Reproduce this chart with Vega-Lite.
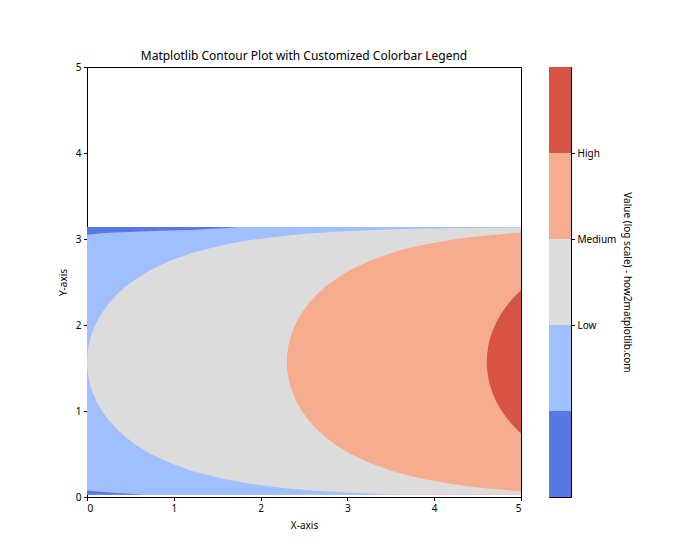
{
  "$schema": "https://vega.github.io/schema/vega-lite/v6.json",
  "padding": {"left": 57, "top": 49, "right": 5, "bottom": 0},
  "background": "white",
  "spacing": 26,
  "config": {
    "font": "Noto Sans",
    "view": {"stroke": "#000000", "strokeWidth": 1},
    "axis": {"grid": false, "domainColor": "#000000", "tickColor": "#000000", "tickSize": 3.5, "labelFontSize": 10, "labelColor": "#000000", "titleFontSize": 10, "titleFontWeight": "normal", "titleColor": "#000000", "labelPadding": 2.5, "titlePadding": 7},
    "title": {"fontSize": 12, "fontWeight": "normal", "color": "#000000", "offset": -1}
  },
  "datasets": {
    "bands": [
      {"band": "r", "y": 0.027, "x": 5.0}, {"band": "r", "y": 3.14, "x": 5.0},
      {"band": "s", "y": 0.027, "x": 5.0}, {"band": "s", "y": 0.739, "x": 5.0}, {"band": "s", "y": 0.8, "x": 4.937}, {"band": "s", "y": 0.9, "x": 4.849}, {"band": "s", "y": 1.0, "x": 4.778}, {"band": "s", "y": 1.1, "x": 4.72}, {"band": "s", "y": 1.2, "x": 4.676}, {"band": "s", "y": 1.3, "x": 4.642}, {"band": "s", "y": 1.4, "x": 4.62}, {"band": "s", "y": 1.5, "x": 4.608}, {"band": "s", "y": 1.571, "x": 4.605}, {"band": "s", "y": 1.642, "x": 4.608}, {"band": "s", "y": 1.742, "x": 4.62}, {"band": "s", "y": 1.842, "x": 4.642}, {"band": "s", "y": 1.942, "x": 4.676}, {"band": "s", "y": 2.042, "x": 4.72}, {"band": "s", "y": 2.142, "x": 4.778}, {"band": "s", "y": 2.242, "x": 4.849}, {"band": "s", "y": 2.342, "x": 4.937}, {"band": "s", "y": 2.403, "x": 5.0}, {"band": "s", "y": 3.14, "x": 5.0},
      {"band": "g", "y": 0.027, "x": 5.0}, {"band": "g", "y": 0.0675, "x": 5.0}, {"band": "g", "y": 0.08, "x": 4.83}, {"band": "g", "y": 0.1, "x": 4.607}, {"band": "g", "y": 0.12, "x": 4.426}, {"band": "g", "y": 0.15, "x": 4.204}, {"band": "g", "y": 0.2, "x": 3.919}, {"band": "g", "y": 0.25, "x": 3.7}, {"band": "g", "y": 0.3, "x": 3.522}, {"band": "g", "y": 0.4, "x": 3.246}, {"band": "g", "y": 0.5, "x": 3.038}, {"band": "g", "y": 0.6, "x": 2.874}, {"band": "g", "y": 0.7, "x": 2.742}, {"band": "g", "y": 0.8, "x": 2.635}, {"band": "g", "y": 0.9, "x": 2.547}, {"band": "g", "y": 1.0, "x": 2.475}, {"band": "g", "y": 1.1, "x": 2.418}, {"band": "g", "y": 1.2, "x": 2.373}, {"band": "g", "y": 1.3, "x": 2.34}, {"band": "g", "y": 1.4, "x": 2.317}, {"band": "g", "y": 1.5, "x": 2.305}, {"band": "g", "y": 1.571, "x": 2.303}, {"band": "g", "y": 1.642, "x": 2.305}, {"band": "g", "y": 1.742, "x": 2.317}, {"band": "g", "y": 1.842, "x": 2.34}, {"band": "g", "y": 1.942, "x": 2.373}, {"band": "g", "y": 2.042, "x": 2.418}, {"band": "g", "y": 2.142, "x": 2.475}, {"band": "g", "y": 2.242, "x": 2.547}, {"band": "g", "y": 2.342, "x": 2.635}, {"band": "g", "y": 2.442, "x": 2.742}, {"band": "g", "y": 2.542, "x": 2.874}, {"band": "g", "y": 2.642, "x": 3.038}, {"band": "g", "y": 2.742, "x": 3.246}, {"band": "g", "y": 2.842, "x": 3.522}, {"band": "g", "y": 2.892, "x": 3.7}, {"band": "g", "y": 2.942, "x": 3.919}, {"band": "g", "y": 2.992, "x": 4.204}, {"band": "g", "y": 3.022, "x": 4.426}, {"band": "g", "y": 3.042, "x": 4.607}, {"band": "g", "y": 3.062, "x": 4.83}, {"band": "g", "y": 3.074, "x": 5.0}, {"band": "g", "y": 3.14, "x": 5.0},
      {"band": "l", "y": 0.027, "x": 3.612}, {"band": "l", "y": 0.04, "x": 3.219}, {"band": "l", "y": 0.06, "x": 2.814}, {"band": "l", "y": 0.08, "x": 2.527}, {"band": "l", "y": 0.1, "x": 2.304}, {"band": "l", "y": 0.15, "x": 1.901}, {"band": "l", "y": 0.2, "x": 1.616}, {"band": "l", "y": 0.3, "x": 1.219}, {"band": "l", "y": 0.4, "x": 0.943}, {"band": "l", "y": 0.5, "x": 0.735}, {"band": "l", "y": 0.6, "x": 0.572}, {"band": "l", "y": 0.7, "x": 0.44}, {"band": "l", "y": 0.8, "x": 0.332}, {"band": "l", "y": 0.9, "x": 0.244}, {"band": "l", "y": 1.0, "x": 0.173}, {"band": "l", "y": 1.1, "x": 0.115}, {"band": "l", "y": 1.2, "x": 0.07}, {"band": "l", "y": 1.3, "x": 0.037}, {"band": "l", "y": 1.4, "x": 0.015}, {"band": "l", "y": 1.5, "x": 0.003}, {"band": "l", "y": 1.571, "x": 0}, {"band": "l", "y": 1.642, "x": 0.003}, {"band": "l", "y": 1.742, "x": 0.015}, {"band": "l", "y": 1.842, "x": 0.037}, {"band": "l", "y": 1.942, "x": 0.07}, {"band": "l", "y": 2.042, "x": 0.115}, {"band": "l", "y": 2.142, "x": 0.173}, {"band": "l", "y": 2.242, "x": 0.244}, {"band": "l", "y": 2.342, "x": 0.332}, {"band": "l", "y": 2.442, "x": 0.44}, {"band": "l", "y": 2.542, "x": 0.572}, {"band": "l", "y": 2.642, "x": 0.735}, {"band": "l", "y": 2.742, "x": 0.943}, {"band": "l", "y": 2.842, "x": 1.219}, {"band": "l", "y": 2.942, "x": 1.616}, {"band": "l", "y": 2.992, "x": 1.901}, {"band": "l", "y": 3.042, "x": 2.304}, {"band": "l", "y": 3.062, "x": 2.527}, {"band": "l", "y": 3.082, "x": 2.814}, {"band": "l", "y": 3.102, "x": 3.219}, {"band": "l", "y": 3.11, "x": 3.455}, {"band": "l", "y": 3.118, "x": 3.74}, {"band": "l", "y": 3.126, "x": 4.15}, {"band": "l", "y": 3.132, "x": 4.66}, {"band": "l", "y": 3.135, "x": 5.0}, {"band": "l", "y": 3.14, "x": 5.0},
      {"band": "d", "y": 0.027, "x": 0.67}, {"band": "d", "y": 0.035, "x": 0.55}, {"band": "d", "y": 0.045, "x": 0.38}, {"band": "d", "y": 0.058, "x": 0.2}, {"band": "d", "y": 0.075, "x": 0},
      {"band": "d", "y": 3.05, "x": 0}, {"band": "d", "y": 3.073, "x": 0.25}, {"band": "d", "y": 3.085, "x": 0.55}, {"band": "d", "y": 3.095, "x": 0.85}, {"band": "d", "y": 3.105, "x": 1.2}, {"band": "d", "y": 3.125, "x": 1.55}, {"band": "d", "y": 3.14, "x": 1.75}
    ],
    "levels": [
      {"band": "d", "lo": 0.01, "hi": 0.1},
      {"band": "l", "lo": 0.1, "hi": 1},
      {"band": "g", "lo": 1, "hi": 10},
      {"band": "s", "lo": 10, "hi": 100},
      {"band": "r", "lo": 100, "hi": 1000}
    ]
  },
  "hconcat": [
    {
      "width": 434,
      "height": 430,
      "title": {"text": "Matplotlib Contour Plot with Customized Colorbar Legend"},
      "data": {"name": "bands"},
      "encoding": {
        "x": {"field": "x", "type": "quantitative", "stack": null, "scale": {"domain": [0, 5], "nice": false}, "axis": {"title": "X-axis", "values": [0, 1, 2, 3, 4, 5]}},
        "y": {"field": "y", "type": "quantitative", "scale": {"domain": [0, 5], "nice": false}, "axis": {"title": "Y-axis", "values": [0, 1, 2, 3, 4, 5]}},
        "color": {"field": "band", "type": "nominal", "scale": {"domain": ["d", "l", "g", "s", "r"], "range": ["#5a78e4", "#9fbfff", "#dddcdc", "#f6ad8f", "#d75445"]}, "legend": null}
      },
      "layer": [
        {"transform": [{"filter": "datum.band == 'r'"}], "mark": {"type": "area", "orient": "horizontal", "opacity": 1}},
        {"transform": [{"filter": "datum.band == 's'"}], "mark": {"type": "area", "orient": "horizontal", "opacity": 1}},
        {"transform": [{"filter": "datum.band == 'g'"}], "mark": {"type": "area", "orient": "horizontal", "opacity": 1}},
        {"transform": [{"filter": "datum.band == 'l'"}], "mark": {"type": "area", "orient": "horizontal", "opacity": 1}},
        {"transform": [{"filter": "datum.band == 'd'"}], "mark": {"type": "area", "orient": "horizontal", "opacity": 1}}
      ]
    },
    {
      "width": 22,
      "height": 430,
      "data": {"name": "levels"},
      "mark": {"type": "rect"},
      "encoding": {
        "x": {"value": 0},
        "x2": {"value": "width"},
        "y": {"field": "lo", "type": "quantitative", "scale": {"type": "log", "domain": [0.01, 1000], "nice": false}, "axis": {"orient": "right", "values": [1, 10, 100], "labelExpr": "datum.value == 1 ? 'Low' : datum.value == 10 ? 'Medium' : 'High'", "title": "Value (log scale) - how2matplotlib.com", "titleAngle": 90, "titlePadding": 6}},
        "y2": {"field": "hi"},
        "color": {"field": "band", "type": "nominal", "scale": {"domain": ["d", "l", "g", "s", "r"], "range": ["#5a78e4", "#9fbfff", "#dddcdc", "#f6ad8f", "#d75445"]}, "legend": null}
      }
    }
  ]
}
